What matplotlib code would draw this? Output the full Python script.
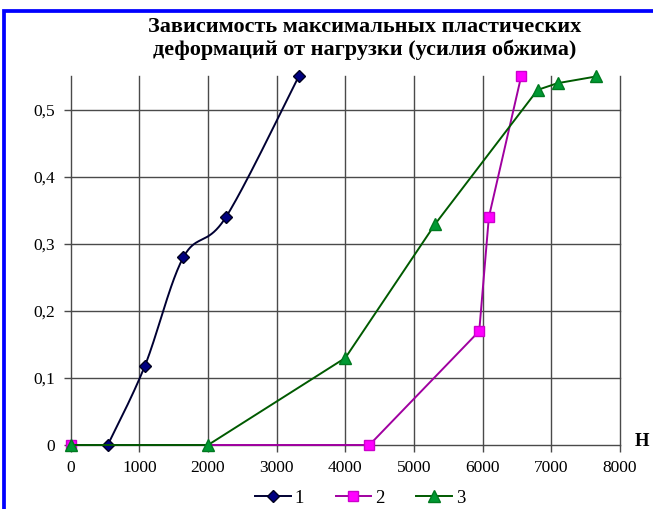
import numpy as np
import matplotlib.pyplot as plt
from matplotlib.patches import Rectangle
from matplotlib.lines import Line2D

plt.rcParams['font.family'] = ['Liberation Serif', 'DejaVu Serif']

# load (N) vs max plastic strain
x1 = [540, 1080, 1640, 2260, 3320]
y1 = [0.0, 0.118, 0.28, 0.34, 0.55]

x2 = [0, 4350, 5950, 6090, 6560]
y2 = [0.0, 0.0, 0.17, 0.34, 0.55]

x3 = [0, 2000, 4000, 5310, 6800, 7090, 7650]
y3 = [0.0, 0.0, 0.13, 0.33, 0.53, 0.54, 0.55]

labels = ['1', '2', '3']
xticks = [0, 1000, 2000, 3000, 4000, 5000, 6000, 7000, 8000]
yticks = [0, 0.1, 0.2, 0.3, 0.4, 0.5]
title = 'Зависимость максимальных пластических\nдеформаций от нагрузки (усилия обжима)'


def smooth(xs, ys, n=40):
    # spreadsheet-style smoothed line: cubic Bezier through the points,
    # control points from neighbouring points (Catmull-Rom, 1/6 tension)
    p = np.column_stack([xs, ys]).astype(float)
    pts = np.vstack([p[0], p, p[-1]])
    out = []
    t = np.linspace(0, 1, n)[:, None]
    for i in range(1, len(pts) - 2):
        p0, p1, p2, p3 = pts[i - 1], pts[i], pts[i + 1], pts[i + 2]
        c1 = p1 + (p2 - p0) / 6
        c2 = p2 - (p3 - p1) / 6
        seg = ((1 - t) ** 3) * p1 + 3 * ((1 - t) ** 2) * t * c1 + 3 * (1 - t) * t ** 2 * c2 + t ** 3 * p2
        out.append(seg if i == 1 else seg[1:])
    out = np.vstack(out)
    return out[:, 0], out[:, 1]


style1 = dict(color='#000033', lw=1.4, marker='D', ms=6.5, mfc='#000080', mec='#000020')
style2 = dict(color='#a000a0', lw=1.4, marker='s', ms=7.5, mfc='#ff00ff', mec='#cc00cc')
style3 = dict(color='#005a00', lw=1.4, marker='^', ms=8.5, mfc='#009933', mec='#007a20')

fig = plt.figure(figsize=(6.53, 5.09), dpi=100)
ax = fig.add_axes([70.7 / 653, 1 - 445 / 509, (620 - 70.7) / 653, (445 - 76.5) / 509])

grid_c = '#4a4a4a'
for xv in xticks:
    ax.plot([xv, xv], [0, 0.55], color=grid_c, lw=1.0, zorder=1, clip_on=False)
for yv in yticks:
    ax.plot([0, 8000], [yv, yv], color=grid_c, lw=1.0, zorder=1, clip_on=False)

sx, sy = smooth(x1, y1)
ax.plot(sx, sy, color=style1['color'], lw=1.4, zorder=3, clip_on=False)
ax.plot(x1, y1, ls='none', marker='D', ms=style1['ms'], mfc=style1['mfc'], mec=style1['mec'],
        zorder=4, clip_on=False)
ax.plot(x2, y2, zorder=5, clip_on=False, **style2)
ax.plot(x3, y3, zorder=6, clip_on=False, **style3)

ax.set_xlim(0, 8000)
ax.set_ylim(0, 0.55)
ax.set_xticks(xticks)
ax.set_yticks(yticks)
ax.set_xticklabels([str(v) for v in xticks])
ax.set_yticklabels(['0'] + [f'{v:.1f}'.replace('.', ',') for v in yticks[1:]])
ax.tick_params(axis='both', labelsize=12.5, color=grid_c, length=5, width=1.0, pad=6)
for s in ax.spines.values():
    s.set_visible(False)

fig.text(365 / 653, 1 - 38.5 / 509, title, ha='center', va='center', fontsize=16,
         fontweight='bold', linespacing=1.15)
fig.text(642 / 653, 1 - 441 / 509, 'Н', ha='center', va='center', fontsize=13.5, fontweight='bold')

handles = [Line2D([], [], **style1), Line2D([], [], **style2), Line2D([], [], **style3)]
fig.legend(handles, labels, loc='center', bbox_to_anchor=(360 / 653, 1 - 498 / 509), ncol=3,
           frameon=False, fontsize=13.5, handlelength=1.9, handletextpad=0.2, columnspacing=1.7)

fig.patches.append(Rectangle((4 / 653, -0.1), 1.2, (509 - 10.5) / 509 + 0.1, transform=fig.transFigure,
                             fill=False, edgecolor='#0000ff', lw=2.7))

fig.savefig('out.png', dpi=100)
